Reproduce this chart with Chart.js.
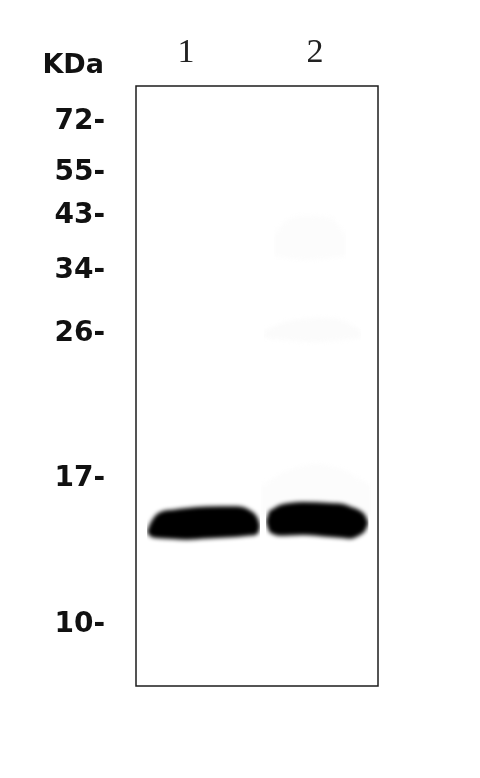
<!DOCTYPE html>
<html>
<head>
<meta charset="utf-8">
<style>html,body{margin:0;padding:0;background:#fff}canvas{display:block}</style>
<script src="https://cdn.jsdelivr.net/npm/chart.js@4"></script>
</head>
<body>
<canvas id="c" width="480" height="778"></canvas>
<script>
const markerKDa = [72, 55, 43, 34, 26, 17, 10];
const markerMigration = [36, 87, 130, 185, 248, 393, 539];
const laneNames = ['1', '2'];
const lanePositions = [50, 179];
const unitLabel = 'KDa';

const band1X = [11, 14, 20, 27, 37, 51, 71, 100, 115, 122, 124];
const band1Top = [446, 438, 429, 425, 423.7, 422, 420.5, 420.3, 425, 433, 440];
const band1Bottom = [446, 450, 452, 452.5, 453, 453.7, 452.5, 451, 449.5, 447.5, 440];

const band2X = [130, 133, 137, 144, 154, 167, 194, 207, 214, 224, 229, 232.5];
const band2Top = [435.7, 426, 423, 419, 417, 416, 417, 418, 420.5, 424.7, 429, 437];
const band2Bottom = [435.7, 445, 448, 449.8, 449.5, 449, 451, 452, 452.7, 449, 445, 437];

const smearX = [138, 150, 170, 195, 210];
const smearTop = [150, 135, 130, 132, 150];
const smearBottom = [170, 172, 174, 172, 170];
const smear2X = [128, 150, 180, 205, 225];
const smear2Top = [245, 236, 232, 234, 245];
const smear2Bottom = [252, 254, 256, 254, 252];
const halo2X = [125, 150, 180, 210, 235];
const halo2Top = [400, 385, 378, 385, 400];
const halo2Bottom = [430, 430, 430, 430, 430];

function toPts(xs, ys) { return xs.map((x, i) => ({ x, y: ys[i] })); }
function band(xs, top, bottom, color) {
  const base = { borderWidth: 0, pointRadius: 0, showLine: true, cubicInterpolationMode: 'monotone' };
  return [
    { ...base, data: toPts(xs, top), fill: '+1', backgroundColor: color },
    { ...base, data: toPts(xs, bottom), fill: false }
  ];
}

const frameAndUnit = {
  id: 'frameAndUnit',
  beforeDatasetsDraw(chart) { chart.ctx.save(); chart.ctx.filter = 'blur(2.2px)'; },
  afterDatasetsDraw(chart) {
    const { ctx, chartArea: a } = chart;
    ctx.restore();
    ctx.save();
    ctx.strokeStyle = '#1c1c1c';
    ctx.lineWidth = 1.5;
    ctx.strokeRect(a.left, a.top, a.right - a.left, a.bottom - a.top);
    ctx.fillStyle = '#111';
    ctx.font = 'bold 27px "DejaVu Sans"';
    ctx.textAlign = 'right';
    ctx.textBaseline = 'middle';
    ctx.fillText(unitLabel, 104, 66);
    ctx.restore();
  }
};

new Chart(document.getElementById('c'), {
  type: 'scatter',
  data: {
    datasets: [
      ...band(band1X, band1Top, band1Bottom, '#000000'),
      ...band(band2X, band2Top, band2Bottom, '#000000'),
      ...band(smearX, smearTop, smearBottom, '#fcfcfc'),
      ...band(smear2X, smear2Top, smear2Bottom, '#fbfbfb'),
      ...band(halo2X, halo2Top, halo2Bottom, '#fcfcfc')
    ]
  },
  options: {
    responsive: false,
    animation: false,
    devicePixelRatio: 1,
    layout: { autoPadding: false, padding: { top: 0, left: 0, right: 102, bottom: 92 } },
    plugins: { legend: { display: false }, title: { display: false }, tooltip: { enabled: false } },
    scales: {
      x: {
        type: 'linear', position: 'top', min: 0, max: 242,
        grid: { display: false, drawTicks: false }, border: { display: false },
        afterBuildTicks(s) { s.ticks = lanePositions.map(value => ({ value })); },
        afterFit(s) { s.height = 86; },
        ticks: {
          autoSkip: false, maxRotation: 0, padding: 13, color: '#222',
          font: { family: '"Liberation Serif"', size: 34 },
          callback: v => laneNames[lanePositions.indexOf(v)]
        }
      },
      y: {
        type: 'linear', reverse: true, min: 0, max: 600,
        grid: { display: false, drawTicks: false }, border: { display: false },
        afterBuildTicks(s) { s.ticks = markerMigration.map(value => ({ value })); },
        afterFit(s) { s.width = 136; },
        ticks: {
          autoSkip: false, padding: 31, color: '#111',
          font: { family: '"DejaVu Sans"', size: 28, weight: 'bold' },
          callback: v => markerKDa[markerMigration.indexOf(v)] + '-'
        }
      }
    }
  },
  plugins: [frameAndUnit]
});
</script>
</body>
</html>
